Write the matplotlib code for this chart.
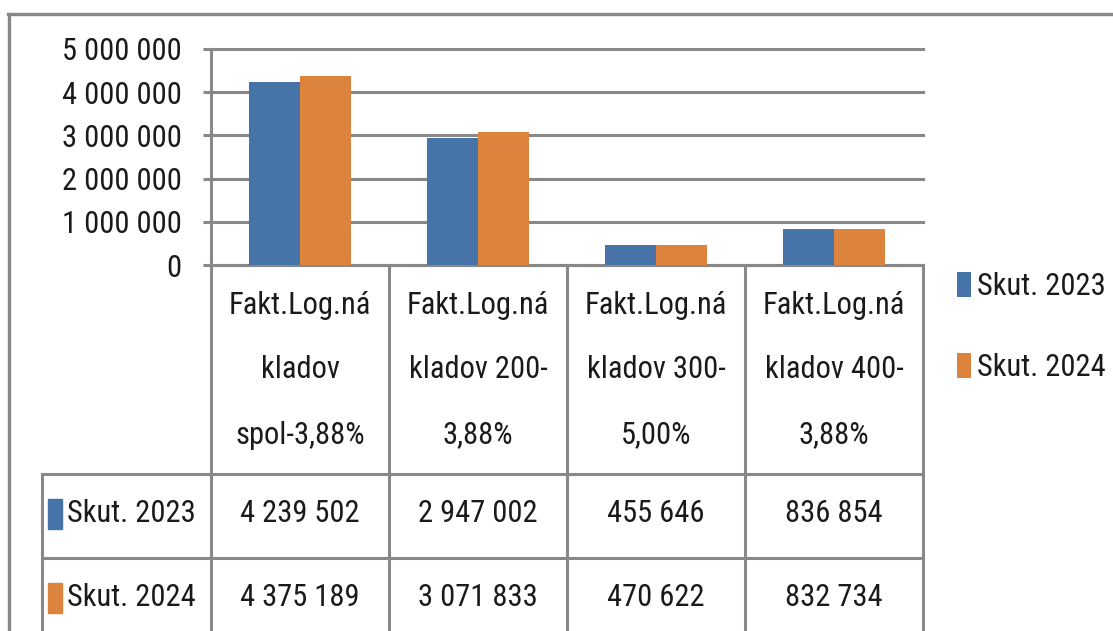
import numpy as np
import matplotlib
matplotlib.use("Agg")
import matplotlib.pyplot as plt
from matplotlib import font_manager
from matplotlib.font_manager import FontProperties
from matplotlib.lines import Line2D
from matplotlib.patches import Rectangle
from matplotlib.transforms import blended_transform_factory
from matplotlib.ticker import FuncFormatter

# ===== DATA =====
categories = [
    "Fakt.Log.ná\nkladov\nspol-3,88%",
    "Fakt.Log.ná\nkladov 200-\n3,88%",
    "Fakt.Log.ná\nkladov 300-\n5,00%",
    "Fakt.Log.ná\nkladov 400-\n3,88%",
]
series_names = ["Skut. 2023", "Skut. 2024"]
skut_2023 = [4239502, 2947002, 455646, 836854]
skut_2024 = [4375189, 3071833, 470622, 832734]
y_ticks = [0, 1000000, 2000000, 3000000, 4000000, 5000000]

BLUE = "#4674A8"
ORANGE = "#DC843E"
GRAY = "#888888"
TEXT = "#1a1a1a"


def pick_font(names):
    for n in names:
        try:
            font_manager.findfont(FontProperties(family=n), fallback_to_default=False)
            return n, True
        except ValueError:
            continue
    return "Liberation Sans", False


font, narrow = pick_font(["Liberation Sans Narrow", "Roboto Condensed",
                          "Open Sans Condensed", "DejaVu Sans Condensed"])
plt.rcParams["font.family"] = [font, "DejaVu Sans"]
FS = 22 if narrow else 18

W, H = 1113, 631


def fx(px):
    return px / W


def fy(py):
    return 1 - py / H


def fmt(v):
    return f"{v:,.0f}".replace(",", " ")


fig = plt.figure(figsize=(W / 100, H / 100), dpi=100)

# ===== BAR AREA =====
ax = fig.add_axes([fx(211), fy(265), fx(923) - fx(211), fy(49) - fy(265)])
x = np.arange(len(categories)) + 0.5
w = 0.287
b1 = ax.bar(x - w / 2, skut_2023, w, color=BLUE, label=series_names[0], zorder=3)
b2 = ax.bar(x + w / 2, skut_2024, w, color=ORANGE, label=series_names[1], zorder=3)

ax.set_xlim(0, len(categories))
ax.set_ylim(0, 5000000)
ax.set_yticks(y_ticks)
ax.yaxis.set_major_formatter(FuncFormatter(lambda v, p: fmt(v)))
ax.tick_params(axis="y", length=6, width=2.2, color=GRAY, labelsize=FS,
               labelcolor=TEXT, pad=15)
ax.set_xticks([])
ax.yaxis.grid(True, color=GRAY, lw=2.2)
for gl in ax.get_ygridlines():
    gl.set_clip_on(False)
ax.set_axisbelow(True)
for s in ["top", "right"]:
    ax.spines[s].set_visible(False)
for s in ["left", "bottom"]:
    ax.spines[s].set_color(GRAY)
    ax.spines[s].set_linewidth(2.2)

# ===== DATA TABLE =====
tr = blended_transform_factory(ax.transData, fig.transFigure)
for i in range(len(categories) + 1):
    fig.add_artist(Line2D([i, i], [fy(265), 0], transform=tr, color=GRAY, lw=2.2))

row_lines = [474, 558]
for yy in row_lines:
    fig.add_artist(Line2D([fx(42), fx(923)], [fy(yy), fy(yy)], color=GRAY, lw=2.2))
fig.add_artist(Line2D([fx(42), fx(42)], [fy(474), 0], color=GRAY, lw=2.2))

# category labels, one line at a time
for i, lab in enumerate(categories):
    for j, line in enumerate(lab.split("\n")):
        fig.text(x[i], fy(305 + 65 * j), line, transform=tr, ha="center",
                 va="center", fontsize=FS, color=TEXT)

row_y = [514, 598]
colors = [BLUE, ORANGE]
for r, vals in enumerate([skut_2023, skut_2024]):
    fig.add_artist(Rectangle((fx(48), fy(row_y[r] + 15)), fx(14), 30 / H,
                             color=colors[r]))
    fig.text(fx(67), fy(row_y[r]), series_names[r], ha="left", va="center",
             fontsize=FS, color=TEXT)
    for i, v in enumerate(vals):
        fig.text(x[i], fy(row_y[r]), fmt(v), transform=tr, ha="center",
                 va="center", fontsize=FS, color=TEXT)

# ===== LEGEND =====
fig.legend(handles=[b1, b2], loc="center left", bbox_to_anchor=(fx(957), fy(327)),
           frameon=False, fontsize=FS, handlelength=0.47, handleheight=0.85,
           handletextpad=0.2, labelspacing=1.7, borderpad=0, borderaxespad=0,
           labelcolor=TEXT)

# ===== CHART BORDER =====
fig.add_artist(Line2D([fx(8), 1], [fy(14), fy(14)], color=GRAY, lw=2.4))
fig.add_artist(Line2D([fx(9), fx(9)], [fy(14), 0], color=GRAY, lw=2.4))

fig.savefig("out.png", dpi=100)
